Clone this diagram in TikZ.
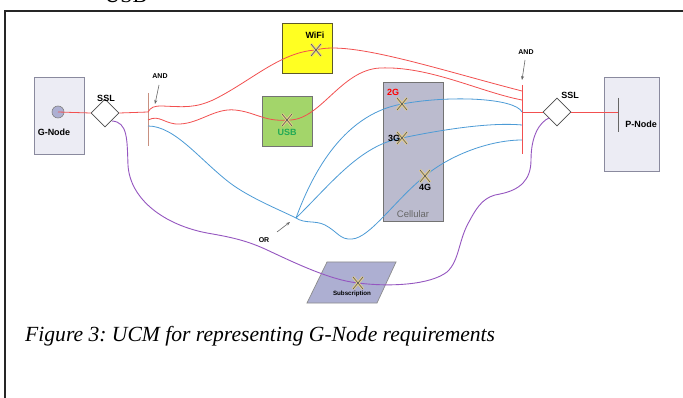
\documentclass[tikz,border=0pt]{standalone}
\usepackage{fontspec}
\setmainfont{Liberation Serif}
\newfontfamily\arialf{Liberation Sans}
\usetikzlibrary{shapes.geometric,arrows.meta}
\definecolor{ucmred}{HTML}{F25050}
\definecolor{ucmblue}{HTML}{4C9BD6}
\definecolor{ucmpurple}{HTML}{9556C0}
\definecolor{boxgray}{HTML}{ECECF4}
\definecolor{boxedge}{HTML}{8A8A9E}
\definecolor{cellfill}{HTML}{BBBBCE}
\definecolor{subfill}{HTML}{ADAFD2}
\definecolor{wifiyellow}{HTML}{FFFF22}
\definecolor{usbgreen}{HTML}{A3D56A}
\definecolor{usbtext}{HTML}{22AA55}
\definecolor{xtan}{HTML}{E6CE8A}
\definecolor{andbar}{HTML}{C89080}
\begin{document}
\frenchspacing
\begin{tikzpicture}[x=1pt,y=-1pt,
  lbl/.style={font=\arialf\bfseries\fontsize{9}{10}\selectfont, inner sep=0},
  smalllbl/.style={font=\arialf\bfseries\fontsize{7}{8}\selectfont, inner sep=0},
  compbox/.style={draw=boxedge, line width=0.8pt, inner sep=0, anchor=north west},
  redp/.style={draw=ucmred, line width=0.8pt},
  bluep/.style={draw=ucmblue, line width=0.8pt},
  purplep/.style={draw=ucmpurple, line width=0.9pt},
  ssl/.style={diamond, draw=black!70, fill=white, line width=0.8pt, inner sep=0, minimum width=28pt, minimum height=28pt},
  ptr/.style={draw=black!60, line width=0.6pt, -{Stealth[length=4pt,width=3pt]}},
  resp/.pic={\draw[xtan,line width=2.6pt] (-5,-6)--(5,6) (-5,6)--(5,-6);
             \draw[black!65,line width=0.6pt] (-5,-6)--(5,6) (-5,6)--(5,-6);}
]
\useasboundingbox (0,0) rectangle (683,398);
\fill[white] (0,0) rectangle (683,398);
% frame
\draw[black!85, line width=1.5pt] (5,398) -- (5,11) -- (684,11);
\node[anchor=base, font=\fontsize{22}{24}\selectfont, inner sep=0] (usbtop) at (126,3) {USB};

% boxes
\node[compbox, fill=boxgray, minimum width=50pt, minimum height=77pt] (gnode) at (34,77) {};
\node[compbox, fill=boxgray, minimum width=55pt, minimum height=94pt] (pnode) at (604,77) {};
\node[compbox, fill=wifiyellow, draw=black!45!olive, minimum width=50pt, minimum height=50pt] (wifi) at (282,23) {};
\node[compbox, fill=usbgreen, draw=black!55, minimum width=50pt, minimum height=50pt] (usb) at (262,96) {};
\node[compbox, fill=cellfill, draw=black!55, minimum width=60pt, minimum height=139pt] (cell) at (383,82) {};
\coordinate (sub) at (351.5,282.5);
\draw[draw=black!45, fill=subfill, line width=0.7pt] (307,303) -- (327,262) -- (396,262) -- (377,303) -- cycle;

\node[circle, draw=black!50, fill=subfill, minimum size=12pt, inner sep=0, line width=0.6pt] (gstart) at (58,112) {};
\node[ssl] (sslL) at (105,113) {};
\node[ssl] (sslR) at (557,112) {};

% AND bars
\coordinate (andLt) at (148,93); \coordinate (andLb) at (148,146);
\coordinate (andRt) at (522,85); \coordinate (andRb) at (522,154);
\draw[andbar, line width=1pt] (andLt) -- (andLb);
\draw[ucmred, line width=1pt] (andRt) -- (andRb);
\coordinate (pbt) at (618,98); \coordinate (pbb) at (618,132);
\draw[black!60, line width=1pt] (pbt) -- (pbb);

% key points
\coordinate (andL) at (148,112);
\coordinate (andR) at (522,112);
\coordinate (pin) at (618,112);
\coordinate (orj) at (296,218);
\coordinate (wifiX) at (316,50);
\coordinate (usbX) at (287,120);
\coordinate (g2X) at (402,104);
\coordinate (g3X) at (402,138);
\coordinate (g4X) at (425,176);
\coordinate (subX) at (358,283);

% main red line
\draw[redp] (gstart.center) -- (sslL.west);
\draw[redp] (sslL.east) -- (andL);
\draw[redp] (andR) -- (sslR.west);
\draw[redp] (sslR.east) -- (pin);

% red paths
\draw[redp] (andL) .. controls (151,107) and (154,106) .. (162,106)
  .. controls (185,107) and (195,108) .. (213,100)
  .. controls (250,82) and (280,52) .. (wifiX)
  .. controls (350,40) and (440,70) .. (522,91);
\draw[redp] (148,120) .. controls (160,114) and (165,125) .. (180,124)
  .. controls (200,123) and (215,108) .. (235,110)
  .. controls (255,112) and (265,122) .. (usbX)
  .. controls (320,122) and (340,70) .. (380,68)
  .. controls (430,66) and (480,92) .. (522,100);

% blue paths
\draw[bluep] (148,126) .. controls (175,126) and (200,160) .. (230,183)
  .. controls (250,198) and (280,210) .. (orj);
\draw[bluep] (orj) .. controls (310,180) and (340,115) .. (g2X)
  .. controls (450,95) and (515,98) .. (andR);
\draw[bluep] (orj) .. controls (330,185) and (360,145) .. (g3X)
  .. controls (440,130) and (490,122) .. (522,125);
\draw[bluep] (orj) .. controls (305,224) and (315,220) .. (325,225)
  .. controls (338,232) and (340,240) .. (352,239)
  .. controls (370,238) and (395,200) .. (g4X)
  .. controls (450,155) and (490,140) .. (522,140);

% purple path
\draw[purplep] (112,121) .. controls (128,122) and (127,140) .. (128,165)
  .. controls (130,200) and (165,225) .. (207,233)
  .. controls (230,237) and (245,240) .. (265,249)
  .. controls (295,263) and (330,280) .. (subX)
  .. controls (390,287) and (430,285) .. (447,272)
  .. controls (460,260) and (458,240) .. (470,220)
  .. controls (478,205) and (485,196) .. (500,194)
  .. controls (520,190) and (531,180) .. (531,160)
  .. controls (531,135) and (540,122) .. (549,118);

% responsibilities
\pic at (wifiX) {resp};
\pic at (usbX) {resp};
\pic at (g2X) {resp};
\pic at (g3X) {resp};
\pic at (g4X) {resp};
\pic at (subX) {resp};

% labels
\node[lbl] (gnodel) at (54,132) {G-Node};
\node[lbl] (pnodel) at (641,124) {P-Node};
\node[lbl] (ssllL) at (106,98) {SSL};
\node[lbl] (ssllR) at (570,95) {SSL};
\node[lbl] (wifil) at (315,35) {WiFi};
\node[lbl, text=usbtext] (usbl) at (287,132) {USB};
\node[lbl, text=red] (g2l) at (393,92) {2G};
\node[lbl] (g3l) at (394,138) {3G};
\node[lbl] (g4l) at (425,187) {4G};
\node[font=\arialf\fontsize{9.5}{10}\selectfont, text=black!60, inner sep=0] (celll) at (413,214) {Cellular};
\node[font=\arialf\bfseries\fontsize{6.2}{7}\selectfont, inner sep=0] (subl) at (352,294) {Subscription};
\node[smalllbl] (andLl) at (160,76) {AND};
\node[smalllbl] (andRl) at (526,52) {AND};
\node[smalllbl] (orl) at (264,240) {OR};
\draw[ptr] (159,85) -- (155,104);
\draw[ptr] (525,60) -- (522,80);
\draw[ptr] (277,232) -- (290,222);

% caption
\node[anchor=base west, font=\itshape\fontsize{21.6}{24}\selectfont, inner sep=0] (cap) at (25,341) {Figure 3: UCM for representing G-Node requirements};
\end{tikzpicture}
\end{document}
